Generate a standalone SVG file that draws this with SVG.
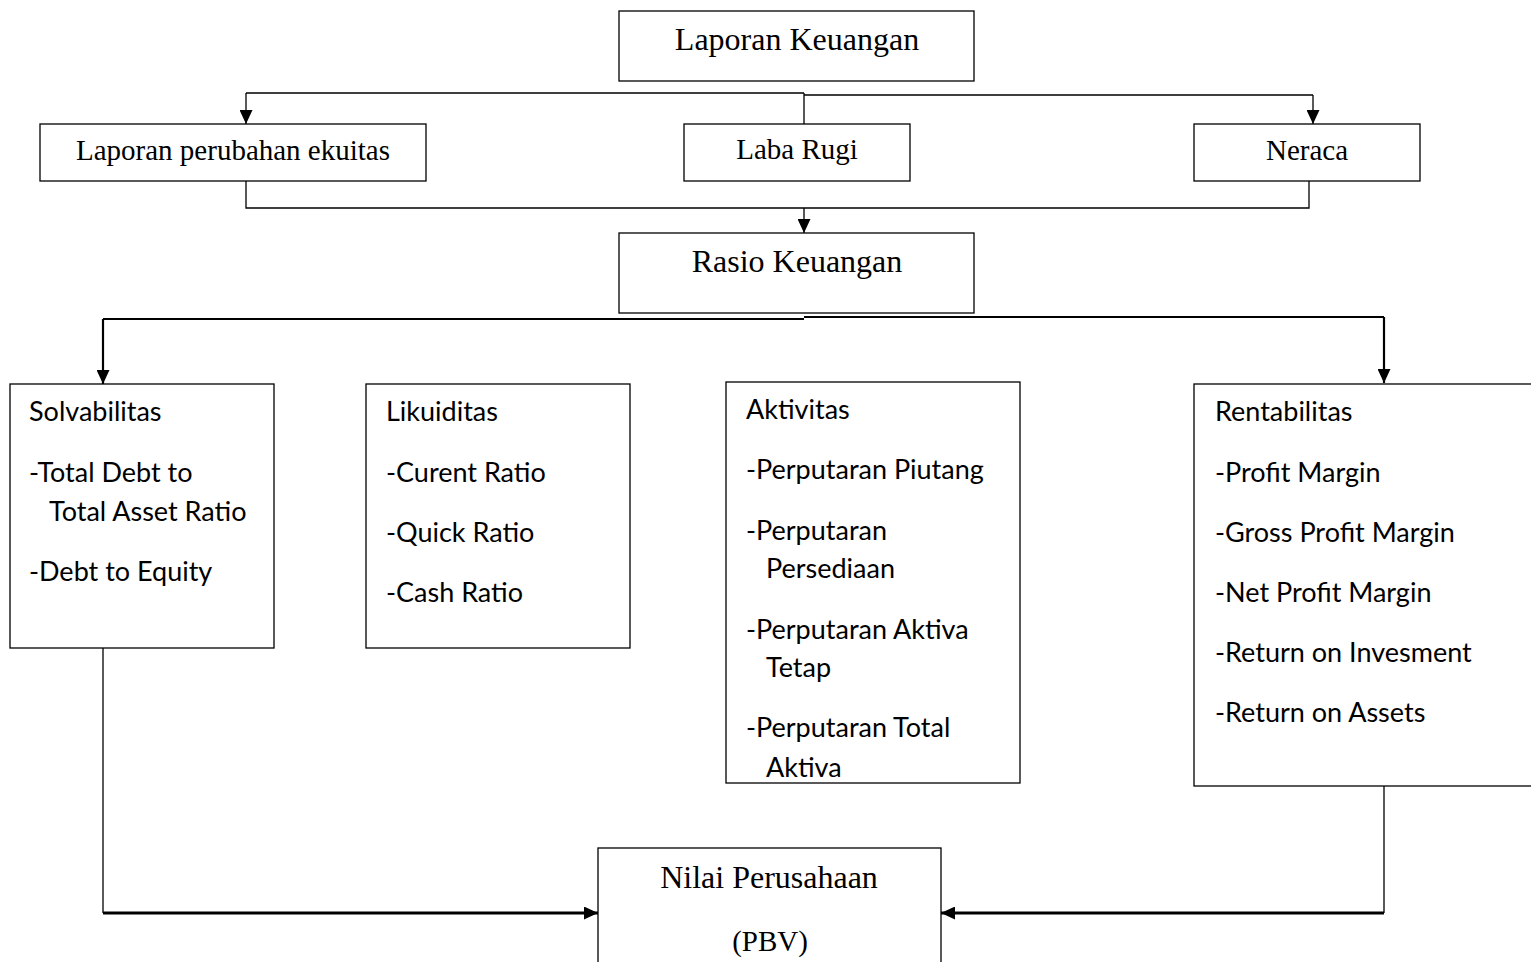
<svg xmlns="http://www.w3.org/2000/svg" width="1531" height="962" viewBox="0 0 1531 962">
<style>
.box{fill:#fff;stroke:#000;stroke-width:1.3}
.serif{font-family:"Liberation Serif","Times New Roman",serif;font-size:29px;fill:#000;text-anchor:middle}
.big{font-size:32px}
.sans{font-family:Lato,"Noto Sans",sans-serif;font-size:27px;fill:#000}
.ln{fill:none;stroke:#000;stroke-width:1.3}
.thick{fill:none;stroke:#000;stroke-width:2.2}
.thick3{fill:none;stroke:#000;stroke-width:3}
</style>
<defs>
<marker id="ah" markerUnits="userSpaceOnUse" markerWidth="14" markerHeight="13" refX="14" refY="6.5" orient="auto" viewBox="0 0 14 13">
<path d="M0,0 L14,6.5 L0,13 Z" fill="#000"/>
</marker>
<clipPath id="clipAkt"><rect x="726" y="382" width="294" height="396"/></clipPath>
</defs>
<rect width="1531" height="962" fill="#fff"/>
<g id="connectors">
<path class="ln" d="M246,93 H804 M804,95 H1313 M804,93 V124"/>
<path class="ln" d="M246,93 V124" marker-end="url(#ah)"/>
<path class="ln" d="M1313,95 V124" marker-end="url(#ah)"/>
<path class="ln" d="M246,181 V208 H1309 V181"/>
<path class="ln" d="M804,208 V233" marker-end="url(#ah)"/>
<path class="thick" d="M103,319 H804 M804,317 H1384"/>
<path class="thick" d="M103,319 V384" marker-end="url(#ah)"/>
<path class="thick" d="M1384,317 V383" marker-end="url(#ah)"/>
<path class="ln" d="M103,648 V913"/>
<path class="thick3" d="M103,913 H598" marker-end="url(#ah)"/>
<path class="ln" d="M1384,786 V913"/>
<path class="thick3" d="M1384,913 H941" marker-end="url(#ah)"/>
</g>
<g id="laporan-keuangan">
<rect class="box" x="619" y="11" width="355" height="70"/>
<text class="serif big" x="797" y="50">Laporan Keuangan</text>
</g>
<g id="laporan-perubahan-ekuitas">
<rect class="box" x="40" y="124" width="386" height="57"/>
<text class="serif" x="233" y="160">Laporan perubahan ekuitas</text>
</g>
<g id="laba-rugi">
<rect class="box" x="684" y="124" width="226" height="57"/>
<text class="serif" x="797" y="159">Laba Rugi</text>
</g>
<g id="neraca">
<rect class="box" x="1194" y="124" width="226" height="57"/>
<text class="serif" x="1307" y="160">Neraca</text>
</g>
<g id="rasio-keuangan">
<rect class="box" x="619" y="233" width="355" height="80"/>
<text class="serif big" x="797" y="272">Rasio Keuangan</text>
</g>
<g id="solvabilitas">
<rect class="box" x="10" y="384" width="264" height="264"/>
<text class="sans" x="29" y="421">Solvabilitas</text>
<text class="sans" x="29" y="482">-Total Debt to</text>
<text class="sans" x="49" y="521">Total Asset Ratio</text>
<text class="sans" x="29" y="581">-Debt to Equity</text>
</g>
<g id="likuiditas">
<rect class="box" x="366" y="384" width="264" height="264"/>
<text class="sans" x="386" y="421">Likuiditas</text>
<text class="sans" x="386" y="482">-Curent Ratio</text>
<text class="sans" x="386" y="542">-Quick Ratio</text>
<text class="sans" x="386" y="602">-Cash Ratio</text>
</g>
<g id="aktivitas">
<rect class="box" x="726" y="382" width="294" height="401"/>
<g clip-path="url(#clipAkt)">
<text class="sans" x="746" y="419">Aktivitas</text>
<text class="sans" x="746" y="479">-Perputaran Piutang</text>
<text class="sans" x="746" y="540">-Perputaran</text>
<text class="sans" x="766" y="578">Persediaan</text>
<text class="sans" x="746" y="639">-Perputaran Aktiva</text>
<text class="sans" x="766" y="677">Tetap</text>
<text class="sans" x="746" y="737">-Perputaran Total</text>
<text class="sans" x="766" y="777">Aktiva</text>
</g>
</g>
<g id="rentabilitas">
<rect class="box" x="1194" y="384" width="350" height="402"/>
<text class="sans" x="1215" y="421">Rentabilitas</text>
<text class="sans" x="1215" y="482">-Profit Margin</text>
<text class="sans" x="1215" y="542">-Gross Profit Margin</text>
<text class="sans" x="1215" y="602">-Net Profit Margin</text>
<text class="sans" x="1215" y="662">-Return on Invesment</text>
<text class="sans" x="1215" y="722">-Return on Assets</text>
</g>
<g id="nilai-perusahaan">
<rect class="box" x="598" y="848" width="343" height="130"/>
<text class="serif big" x="769" y="888">Nilai Perusahaan</text>
<text class="serif" x="770" y="951">(PBV)</text>
</g>
</svg>
